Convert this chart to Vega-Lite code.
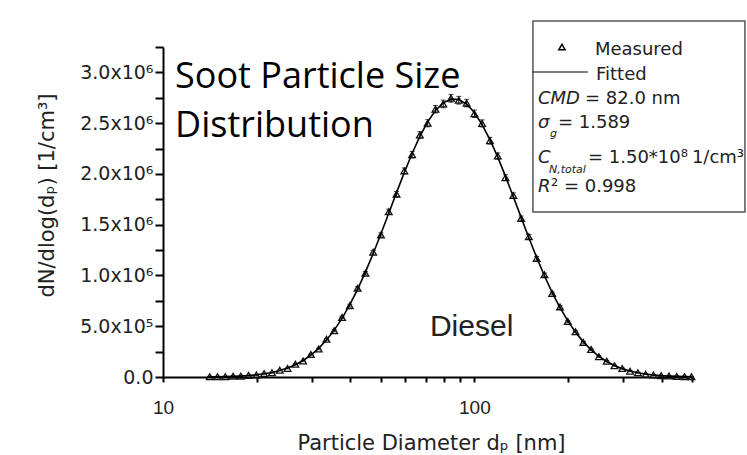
{
  "$schema": "https://vega.github.io/schema/vega-lite/v6.json",
  "width": 529,
  "height": 330,
  "autosize": {"type": "none"},
  "padding": {"left": 163, "top": 47, "right": 55, "bottom": 78},
  "background": "white",
  "config": {"view": {"stroke": null}, "font": "DejaVu Sans"},
  "datasets": {
    "psd": [
      {"dp": 14.13, "fit": 1700, "n": 2500, "err": 4000},
      {"dp": 14.96, "fit": 2700, "n": 3300, "err": 4100},
      {"dp": 15.85, "fit": 4200, "n": 3600, "err": 4100},
      {"dp": 16.79, "fit": 6400, "n": 7400, "err": 4100},
      {"dp": 17.78, "fit": 9800, "n": 8900, "err": 4100},
      {"dp": 18.84, "fit": 14600, "n": 16300, "err": 4200},
      {"dp": 19.95, "fit": 21600, "n": 20500, "err": 4300},
      {"dp": 21.13, "fit": 31300, "n": 33600, "err": 4400},
      {"dp": 22.39, "fit": 44900, "n": 42700, "err": 4500},
      {"dp": 23.71, "fit": 63300, "n": 66800, "err": 4800},
      {"dp": 25.12, "fit": 88000, "n": 84900, "err": 5100},
      {"dp": 26.61, "fit": 120400, "n": 125700, "err": 5500},
      {"dp": 28.18, "fit": 162300, "n": 158200, "err": 6100},
      {"dp": 29.85, "fit": 215700, "n": 221900, "err": 6700},
      {"dp": 31.62, "fit": 281900, "n": 276000, "err": 7500},
      {"dp": 33.5, "fit": 363600, "n": 371400, "err": 8600},
      {"dp": 35.48, "fit": 461700, "n": 455300, "err": 9800},
      {"dp": 37.58, "fit": 577600, "n": 586900, "err": 11200},
      {"dp": 39.81, "fit": 711900, "n": 703100, "err": 12900},
      {"dp": 42.17, "fit": 863400, "n": 874200, "err": 14800},
      {"dp": 44.67, "fit": 1032400, "n": 1021600, "err": 16900},
      {"dp": 47.32, "fit": 1216300, "n": 1229800, "err": 19200},
      {"dp": 50.12, "fit": 1411100, "n": 1398700, "err": 21700},
      {"dp": 53.09, "fit": 1613000, "n": 1628400, "err": 24200},
      {"dp": 56.23, "fit": 1816100, "n": 1801500, "err": 26700},
      {"dp": 59.57, "fit": 2014400, "n": 2029900, "err": 29200},
      {"dp": 63.1, "fit": 2201000, "n": 2188800, "err": 31500},
      {"dp": 66.83, "fit": 2369300, "n": 2383100, "err": 33600},
      {"dp": 70.79, "fit": 2512300, "n": 2499200, "err": 35400},
      {"dp": 74.99, "fit": 2624100, "n": 2637400, "err": 36800},
      {"dp": 79.43, "fit": 2700000, "n": 2689300, "err": 37800},
      {"dp": 84.14, "fit": 2736700, "n": 2744900, "err": 38200},
      {"dp": 89.13, "fit": 2732600, "n": 2725600, "err": 38200},
      {"dp": 94.41, "fit": 2687900, "n": 2697700, "err": 37600},
      {"dp": 100.0, "fit": 2604400, "n": 2592300, "err": 36600},
      {"dp": 105.9, "fit": 2486000, "n": 2497400, "err": 35100},
      {"dp": 112.2, "fit": 2337500, "n": 2326700, "err": 33200},
      {"dp": 118.9, "fit": 2165100, "n": 2176100, "err": 31100},
      {"dp": 125.9, "fit": 1975500, "n": 1963400, "err": 28700},
      {"dp": 133.4, "fit": 1775800, "n": 1787700, "err": 26200},
      {"dp": 141.3, "fit": 1572200, "n": 1561300, "err": 23700},
      {"dp": 149.6, "fit": 1371400, "n": 1382500, "err": 21200},
      {"dp": 158.5, "fit": 1178500, "n": 1168200, "err": 18800},
      {"dp": 167.9, "fit": 997400, "n": 1006900, "err": 16500},
      {"dp": 177.8, "fit": 831600, "n": 823400, "err": 14400},
      {"dp": 188.4, "fit": 683400, "n": 690700, "err": 12600},
      {"dp": 199.5, "fit": 552900, "n": 546600, "err": 10900},
      {"dp": 211.3, "fit": 440600, "n": 446500, "err": 9500},
      {"dp": 223.9, "fit": 346100, "n": 341300, "err": 8400},
      {"dp": 237.1, "fit": 267700, "n": 271800, "err": 7400},
      {"dp": 251.2, "fit": 203900, "n": 200700, "err": 6600},
      {"dp": 266.1, "fit": 153100, "n": 155900, "err": 5900},
      {"dp": 281.8, "fit": 113200, "n": 111000, "err": 5400},
      {"dp": 298.5, "fit": 82400, "n": 84300, "err": 5100},
      {"dp": 316.2, "fit": 59200, "n": 57700, "err": 4800},
      {"dp": 335.0, "fit": 41800, "n": 43000, "err": 4500},
      {"dp": 354.8, "fit": 29100, "n": 28100, "err": 4400},
      {"dp": 375.8, "fit": 20000, "n": 20800, "err": 4300},
      {"dp": 398.1, "fit": 13500, "n": 12900, "err": 4200},
      {"dp": 421.7, "fit": 9000, "n": 9500, "err": 4100},
      {"dp": 446.7, "fit": 5900, "n": 5500, "err": 4100},
      {"dp": 473.2, "fit": 3800, "n": 4100, "err": 4100},
      {"dp": 498.0, "fit": 2400, "n": 2200, "err": 4000}
    ],
    "box": [{"dp": 154.2, "dp2": 739.6, "n": 3506000, "n2": 1625000}],
    "legline": [{"dp": 154.2, "dp2": 231.7, "n": 3004000}],
    "legsym": [{"dp": 191.1, "n": 3250000}],
    "notes": [
      {"role": "title", "t": "Soot Particle Size", "dp": 10.93, "n": 2846000},
      {"role": "title", "t": "Distribution", "dp": 10.93, "n": 2364000},
      {"role": "diesel", "t": "Diesel", "dp": 72.0, "n": 404000},
      {"role": "leg", "t": "Measured", "dp": 243.9, "n": 3171000},
      {"role": "leg", "t": "Fitted", "dp": 245.8, "n": 2925000},
      {"role": "leg", "t": "= 82.0 nm", "dp": 226.6, "n": 2689000},
      {"role": "leg", "t": "= 1.589", "dp": 185.6, "n": 2452000},
      {"role": "leg", "t": "= 1.50*10⁸", "dp": 231.7, "n": 2108000},
      {"role": "leg", "t": "1/cm³", "dp": 499.7, "n": 2108000},
      {"role": "leg", "t": "² = 0.998", "dp": 176.2, "n": 1822000},
      {"role": "ital", "t": "CMD", "dp": 160.0, "n": 2689000},
      {"role": "ital", "t": "σ", "dp": 160.0, "n": 2452000},
      {"role": "ital", "t": "C", "dp": 160.0, "n": 2108000},
      {"role": "ital", "t": "R", "dp": 160.0, "n": 1822000},
      {"role": "sub", "t": "g", "dp": 174.9, "n": 2364000},
      {"role": "sub", "t": "N,total", "dp": 173.6, "n": 2009000}
    ]
  },
  "encoding": {
    "x": {
      "field": "dp", "type": "quantitative",
      "scale": {"type": "log", "domain": [10, 500], "nice": false},
      "axis": {
        "title": "Particle Diameter dₚ [nm]",
        "values": [10, 20, 30, 40, 50, 60, 70, 80, 90, 100, 200, 300, 400, 500],
        "labelExpr": "datum.value == 10 ? '10' : (datum.value == 100 ? '100' : '')",
        "grid": false, "domainColor": "black", "domainWidth": 2,
        "tickColor": "black", "tickWidth": 2, "tickSize": 5,
        "labelFont": "Liberation Sans", "labelFontSize": 19, "labelColor": "#222",
        "labelPadding": 16, "labelOverlap": false, "labelFlush": false,
        "titleFont": "DejaVu Sans", "titleFontSize": 21, "titleFontWeight": "normal", "titleColor": "#222",
        "titleX": 268, "titleY": 72, "titleBaseline": "alphabetic", "titleAlign": "center"
      }
    },
    "y": {
      "field": "n", "type": "quantitative",
      "scale": {"domain": [0, 3250000], "nice": false, "zero": false},
      "axis": {
        "title": "dN/dlog(dₚ) [1/cm³]",
        "values": [0, 250000, 500000, 750000, 1000000, 1250000, 1500000, 1750000, 2000000, 2250000, 2500000, 2750000, 3000000, 3250000],
        "labelExpr": "datum.value == 0 ? '0.0' : ((datum.value % 500000 != 0 || datum.value > 3000000) ? '' : (datum.value >= 1000000 ? format(datum.value / 1000000, '.1f') + 'x10⁶' : format(datum.value / 100000, '.1f') + 'x10⁵'))",
        "grid": false, "domainColor": "black", "domainWidth": 2,
        "tickColor": "black", "tickWidth": 2, "tickSize": 8,
        "labelFont": "DejaVu Sans", "labelFontSize": 19, "labelColor": "#222",
        "labelPadding": 2, "labelOverlap": false, "labelFlush": false,
        "titleFont": "DejaVu Sans", "titleFontSize": 21, "titleFontWeight": "normal", "titleColor": "#222",
        "titleAngle": -90, "titleX": -110, "titleY": 148, "titleBaseline": "alphabetic", "titleAlign": "center"
      }
    }
  },
  "layer": [
    {
      "data": {"name": "box"},
      "mark": {"type": "rect", "fill": "white", "stroke": "#555", "strokeWidth": 1.5},
      "encoding": {"x2": {"field": "dp2"}, "y2": {"field": "n2"}}
    },
    {
      "data": {"name": "psd"},
      "mark": {"type": "errorbar", "ticks": true, "color": "black", "thickness": 1},
      "encoding": {"yError": {"field": "err"}}
    },
    {
      "data": {"name": "psd"},
      "mark": {"type": "point", "shape": "triangle-up", "size": 45, "color": "#111", "filled": false, "strokeWidth": 1.3, "opacity": 1}
    },
    {
      "data": {"name": "psd"},
      "mark": {"type": "line", "color": "black", "strokeWidth": 1.6},
      "encoding": {
        "y": {
          "field": "fit", "type": "quantitative",
          "axis": {
            "title": "dN/dlog(dₚ) [1/cm³]",
            "values": [0, 250000, 500000, 750000, 1000000, 1250000, 1500000, 1750000, 2000000, 2250000, 2500000, 2750000, 3000000, 3250000],
            "labelExpr": "datum.value == 0 ? '0.0' : ((datum.value % 500000 != 0 || datum.value > 3000000) ? '' : (datum.value >= 1000000 ? format(datum.value / 1000000, '.1f') + 'x10⁶' : format(datum.value / 100000, '.1f') + 'x10⁵'))",
            "grid": false, "domainColor": "black", "domainWidth": 2,
            "tickColor": "black", "tickWidth": 2, "tickSize": 8,
            "labelFont": "DejaVu Sans", "labelFontSize": 19, "labelColor": "#222",
            "labelPadding": 2, "labelOverlap": false, "labelFlush": false,
            "titleFont": "DejaVu Sans", "titleFontSize": 21, "titleFontWeight": "normal", "titleColor": "#222",
            "titleAngle": -90, "titleX": -110, "titleY": 148, "titleBaseline": "alphabetic", "titleAlign": "center"
          }
        }
      }
    },
    {
      "data": {"name": "legline"},
      "mark": {"type": "rule", "color": "black", "strokeWidth": 1.2},
      "encoding": {"x2": {"field": "dp2"}}
    },
    {
      "data": {"name": "legsym"},
      "mark": {"type": "point", "shape": "triangle-up", "size": 40, "color": "black", "filled": false, "strokeWidth": 1.5, "opacity": 1}
    },
    {
      "data": {"name": "notes"},
      "transform": [{"filter": "datum.role == 'title'"}],
      "mark": {"type": "text", "font": "Open Sans", "fontSize": 36, "align": "left", "baseline": "alphabetic", "color": "black"},
      "encoding": {"text": {"field": "t"}}
    },
    {
      "data": {"name": "notes"},
      "transform": [{"filter": "datum.role == 'diesel'"}],
      "mark": {"type": "text", "font": "Liberation Sans", "fontSize": 30, "align": "left", "baseline": "alphabetic", "color": "#222"},
      "encoding": {"text": {"field": "t"}}
    },
    {
      "data": {"name": "notes"},
      "transform": [{"filter": "datum.role == 'leg'"}],
      "mark": {"type": "text", "font": "DejaVu Sans", "fontSize": 18, "align": "left", "baseline": "alphabetic", "color": "#222"},
      "encoding": {"text": {"field": "t"}}
    },
    {
      "data": {"name": "notes"},
      "transform": [{"filter": "datum.role == 'ital'"}],
      "mark": {"type": "text", "font": "DejaVu Sans", "fontSize": 18, "fontStyle": "italic", "align": "left", "baseline": "alphabetic", "color": "#222"},
      "encoding": {"text": {"field": "t"}}
    },
    {
      "data": {"name": "notes"},
      "transform": [{"filter": "datum.role == 'sub'"}],
      "mark": {"type": "text", "font": "DejaVu Sans", "fontSize": 11, "fontStyle": "italic", "align": "left", "baseline": "alphabetic", "color": "#222"},
      "encoding": {"text": {"field": "t"}}
    }
  ]
}
